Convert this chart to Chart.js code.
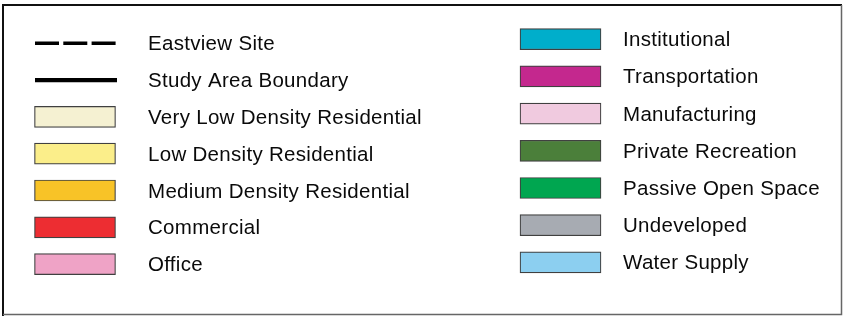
<!DOCTYPE html>
<html>
<head>
<meta charset="utf-8">
<script src="https://cdn.jsdelivr.net/npm/chart.js@4"></script>
<style>
  html, body { margin: 0; padding: 0; background: #fff; overflow: hidden; }
  #wrap { position: relative; width: 843px; height: 317px; }
</style>
</head>
<body>
<div id="wrap"><canvas id="legendChart"></canvas></div>
<script>
// legend entries, left column (first two are line symbols)
var leftLabels = ["Eastview Site", "Study Area Boundary", "Very Low Density Residential",
    "Low Density Residential", "Medium Density Residential", "Commercial", "Office"];
var leftColors = [null, null, "#f5f1d2", "#fbee8a", "#f8c327", "#ed2d32", "#efa3c6"];
var lineLabels = ["Eastview Site", "Study Area Boundary"];

// legend entries, right column
var rightLabels = ["Institutional", "Transportation", "Manufacturing", "Private Recreation",
    "Passive Open Space", "Undeveloped", "Water Supply"];
var rightColors = ["#00aecb", "#c4288e", "#f0cadf", "#4b7f3a", "#00a650", "#a7abb2", "#8ccff0"];

document.addEventListener("DOMContentLoaded", function () {
    // layout (pixels in the 843x317 frame)
    var W = 843, H = 317;
    var SW_X = [34.5, 520], SW_W = 81, SW_H = 21;
    var TEXT_X = [148, 623];
    var ROW0 = [43.3, 39.2], STEP = [36.8, 37.2];

    function rowScale(col) {
        var min = -ROW0[col] / STEP[col];
        return { type: "linear", axis: "y", reverse: true, display: false, offset: false,
                 grace: 0, min: min, max: min + H / STEP[col] };
    }

    var leftBars = [], rightBars = [];
    leftLabels.forEach(function (lbl, i) {
        if (leftColors[i]) leftBars.push({ y: i, x: [SW_X[0], SW_X[0] + SW_W] });
    });
    rightLabels.forEach(function (lbl, i) {
        rightBars.push({ y: i, x: [SW_X[1], SW_X[1] + SW_W] });
    });

    var textPlugin = {
        id: "legendText",
        afterDatasetsDraw: function (chart) {
            var c = chart.ctx;
            c.save();
            // frame
            c.strokeStyle = "#111";
            c.lineWidth = 2;
            c.beginPath();
            c.moveTo(3, 316); c.lineTo(3, 5); c.lineTo(842, 5);
            c.stroke();
            c.strokeStyle = "#666";
            c.lineWidth = 1.5;
            c.beginPath();
            c.moveTo(841.5, 5); c.lineTo(841.5, 314.5); c.lineTo(3, 314.5);
            c.stroke();
            // labels
            c.font = '20.5px "Liberation Sans", Arial, sans-serif';
            if ("letterSpacing" in c) c.letterSpacing = "0.3px";
            c.fillStyle = "#0a0a0a";
            c.textBaseline = "alphabetic";
            c.textAlign = "left";
            var yL = chart.scales.yL, yR = chart.scales.yR;
            leftLabels.forEach(function (t, i) {
                c.fillText(t, TEXT_X[0], yL.getPixelForValue(i) + 7);
            });
            rightLabels.forEach(function (t, i) {
                c.fillText(t, TEXT_X[1], yR.getPixelForValue(i) + 7);
            });
            c.restore();
        }
    };

    var ctx = document.getElementById("legendChart").getContext("2d");
    new Chart(ctx, {
        type: "bar",
        data: {
            datasets: [{
                label: "left swatches",
                indexAxis: "y",
                yAxisID: "yL",
                data: leftBars,
                backgroundColor: leftColors.filter(function (c) { return c; }),
                borderColor: "#404040",
                borderWidth: 1.2,
                borderSkipped: false,
                barThickness: SW_H,
                grouped: false
            }, {
                label: "right swatches",
                indexAxis: "y",
                yAxisID: "yR",
                data: rightBars,
                backgroundColor: rightColors,
                borderColor: "#404040",
                borderWidth: 1.2,
                borderSkipped: false,
                barThickness: SW_H,
                grouped: false
            }, {
                type: "line",
                label: lineLabels[0],
                yAxisID: "yL",
                data: [{ x: SW_X[0] + 0.5, y: 0 }, { x: SW_X[0] + SW_W + 0.5, y: 0 }],
                borderColor: "#000",
                borderWidth: 3.5,
                borderDash: [24, 4.3],
                pointRadius: 0
            }, {
                type: "line",
                label: lineLabels[1],
                yAxisID: "yL",
                data: [{ x: SW_X[0] + 0.5, y: 1 }, { x: SW_X[0] + SW_W + 1.5, y: 1 }],
                borderColor: "#000",
                borderWidth: 4.3,
                pointRadius: 0
            }]
        },
        options: {
            responsive: true,
            maintainAspectRatio: false,
            animation: false,
            events: [],
            layout: { padding: 0 },
            plugins: { legend: { display: false }, tooltip: { enabled: false } },
            scales: {
                x: { type: "linear", display: false, offset: false, grace: 0, min: 0, max: W },
                yL: rowScale(0),
                yR: rowScale(1)
            }
        },
        plugins: [textPlugin]
    });
});
</script>
</body>
</html>
